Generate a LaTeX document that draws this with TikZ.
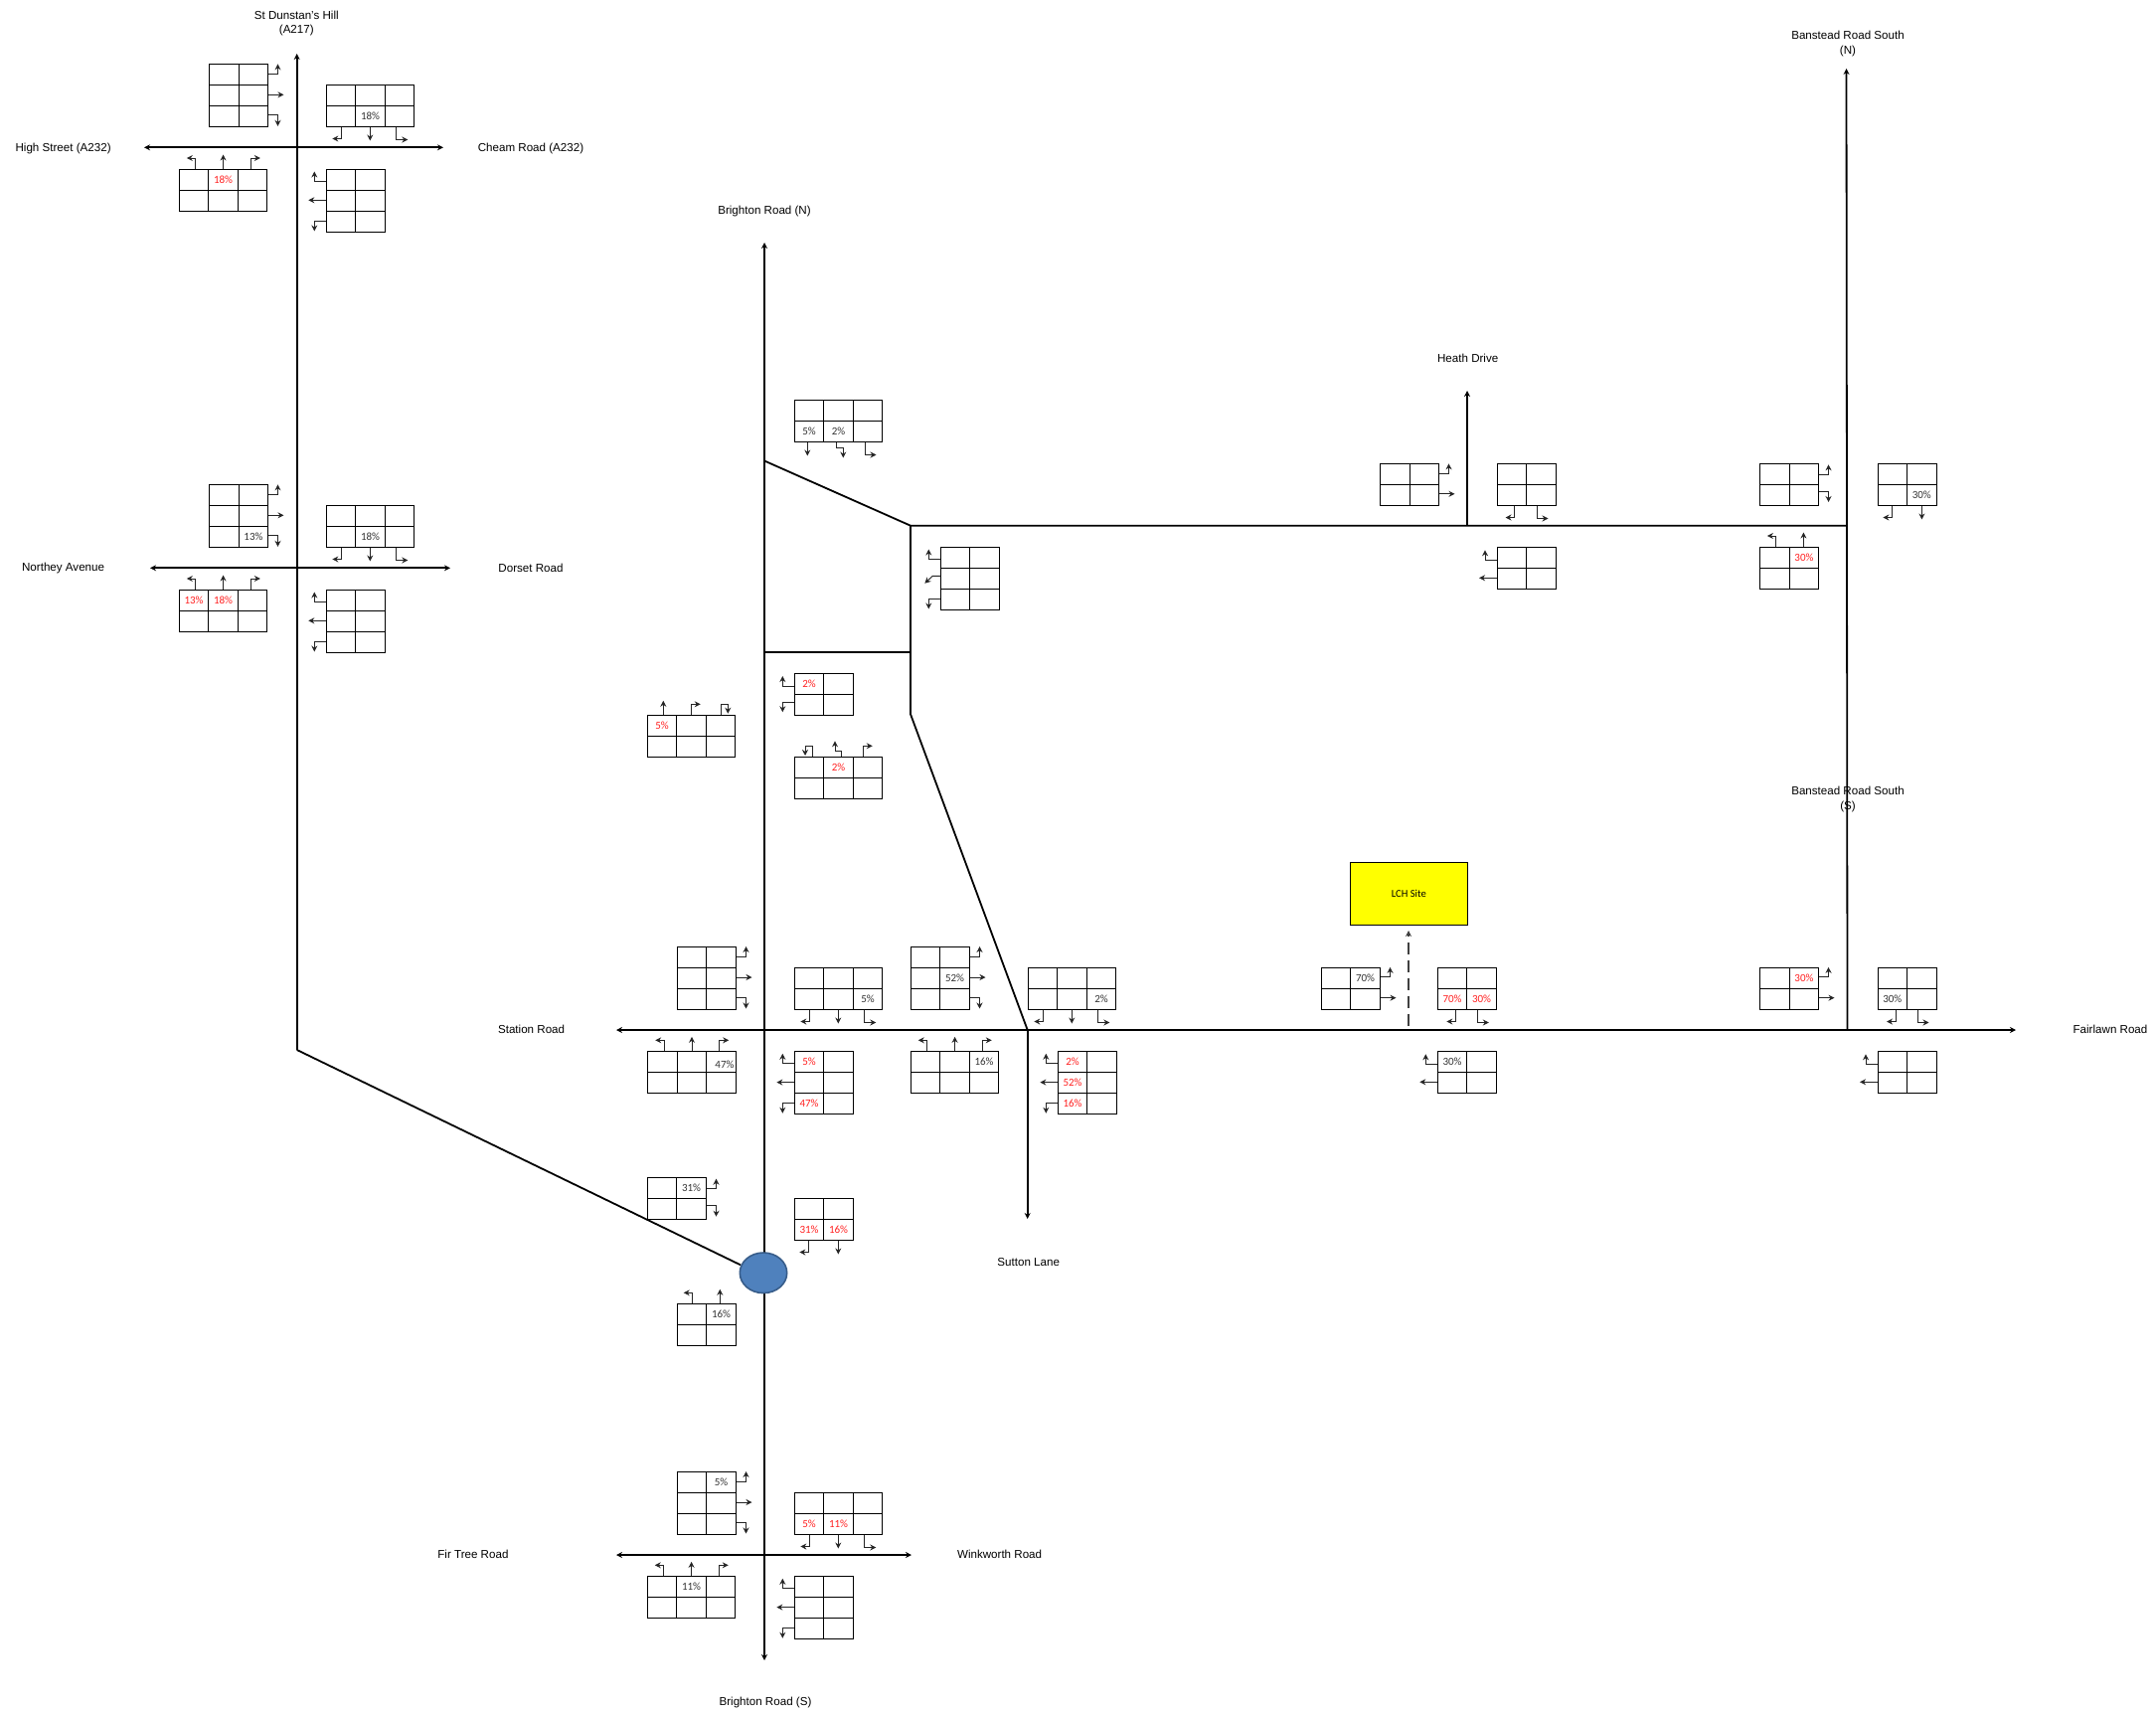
\documentclass[tikz,border=0pt]{standalone}
\usepackage{fontspec}
\setmainfont{Liberation Sans}
\newfontfamily\pctfont{Carlito}
\usetikzlibrary{arrows.meta,calc}
\definecolor{pctred}{HTML}{FF2020}
\definecolor{rbfill}{RGB}{79,129,189}
\definecolor{rbline}{RGB}{56,93,138}
\definecolor{sitefill}{RGB}{255,255,0}
\tikzset{
  x=0.5pt,y=-0.5pt,
  road/.style={line width=0.9pt,black},
  roadone/.style={road,-{Stealth[length=3pt,width=3pt]}},
  roadtwo/.style={road,{Stealth[length=3pt,width=3pt]}-{Stealth[length=3pt,width=3pt]}},
  cellline/.style={line width=0.5pt,black},
  turn/.style={line width=0.45pt,black!85,-{Stealth[length=3pt,width=3pt]}},
  roadlabel/.style={font=\fontsize{5.8}{7.2}\selectfont,align=center,inner sep=0pt},
  pctb/.style={font=\pctfont\fontsize{5.5}{6}\selectfont,inner sep=0pt,text=black!80},
  pctr/.style={font=\pctfont\fontsize{5.5}{6}\selectfont,inner sep=0pt,text=pctred},
}
\newcommand{\cw}{29.5}
\newcommand{\ch}{21.1}
% \tblk{x}{y}{cols}{rows}
\newcounter{blk}
\newcommand{\tblk}[4]{%
  \stepcounter{blk}%
  \def\gx{#1}\def\gy{#2}%
  \pgfmathsetmacro\gxl{floor(#1)+0.5}\pgfmathsetmacro\gyt{floor(#2)+0.5}%
  \pgfmathsetmacro\gxr{floor(#1+#3*\cw)+0.5}\pgfmathsetmacro\gyb{floor(#2+#4*\ch)+0.5}%
  \draw[cellline] (\gxl,\gyt) rectangle (\gxr,\gyb);
  \foreach \i in {1,...,#3}{\pgfmathsetmacro\xx{floor(#1+\i*\cw)+0.5}\draw[cellline] (\xx,\gyt) -- (\xx,\gyb);}
  \foreach \j in {1,...,#4}{\pgfmathsetmacro\yy{floor(#2+\j*\ch)+0.5}\draw[cellline] (\gxl,\yy) -- (\gxr,\yy);}
}
% percent label in current block: \pb{col}{row}{text}, \pr
\newcommand{\pb}[3]{\node[pctb] (pb\theblk c#1r#2) at ({\gx+(#1-0.5)*\cw},{\gy+(#2-0.5)*\ch}) {#3};}
\newcommand{\pr}[3]{\node[pctr] (pr\theblk c#1r#2) at ({\gx+(#1-0.5)*\cw},{\gy+(#2-0.5)*\ch}) {#3};}
% arrows: right edge
\newcommand{\aru}[1][10]{\draw[turn] (\gxr,{\gy+#1}) -- ({\gxr+10},{\gy+#1}) -- ({\gxr+10},{\gy+#1-10});}
\newcommand{\arr}[1][31]{\draw[turn] (\gxr,{\gy+#1}) -- ({\gxr+16},{\gy+#1});}
\newcommand{\ard}[1][51.5]{\draw[turn] (\gxr,{\gy+#1}) -- ({\gxr+10},{\gy+#1}) -- ({\gxr+10},{\gy+#1+11});}
% left edge
\newcommand{\alu}[1][12.5]{\draw[turn] (\gx,{\gy+#1}) -- ({\gx-12},{\gy+#1}) -- ({\gx-12},{\gy+#1-10});}
\newcommand{\all}[1][31.3]{\draw[turn] (\gx,{\gy+#1}) -- ({\gx-18},{\gy+#1});}
\newcommand{\ald}[1][52.5]{\draw[turn] (\gx,{\gy+#1}) -- ({\gx-12},{\gy+#1}) -- ({\gx-12},{\gy+#1+10});}
% bottom edge: x offsets
\newcommand{\abl}[1][15]{\draw[turn] ({\gx+#1},\gyb) -- ({\gx+#1},{\gyb+12}) -- ({\gx+#1-9},{\gyb+12});}
\newcommand{\abd}[1][44]{\draw[turn] ({\gx+#1},\gyb) -- ({\gx+#1},{\gyb+14});}
\newcommand{\abr}[1][70.5]{\draw[turn] ({\gx+#1},\gyb) -- ({\gx+#1},{\gyb+13}) -- ({\gx+#1+11.5},{\gyb+13});}
% top edge
\newcommand{\atl}[1][16.5]{\draw[turn] ({\gx+#1},\gy) -- ({\gx+#1},{\gy-11}) -- ({\gx+#1-9},{\gy-11});}
\newcommand{\atu}[1][44.3]{\draw[turn] ({\gx+#1},\gy) -- ({\gx+#1},{\gy-14.5});}
\newcommand{\atr}[1][72]{\draw[turn] ({\gx+#1},\gy) -- ({\gx+#1},{\gy-11}) -- ({\gx+#1+9.5},{\gy-11});}
\begin{document}
\begin{tikzpicture}
\useasboundingbox (0,0) rectangle (2169,1724);
% road points
\coordinate (a1top) at (298.7,54);
\coordinate (a1kink) at (298.7,1056);
\coordinate (h1w) at (145,148.3);
\coordinate (h1e) at (446,148.3);
\coordinate (h2w) at (151,571.3);
\coordinate (h2e) at (453,571.3);
\coordinate (bntop) at (769,244);
\coordinate (bsbot) at (769,1670);
\coordinate (d1) at (769,463.5);
\coordinate (d2) at (916,528.7);
\coordinate (d3) at (769,655.7);
\coordinate (d4) at (916,655.7);
\coordinate (d5) at (916,718.3);
\coordinate (suttonj) at (1033.7,1036);
\coordinate (suttonb) at (1033.7,1226);
\coordinate (stw) at (620,1036);
\coordinate (ste) at (2028,1036);
\coordinate (banj) at (1858,528.7);
\coordinate (bantop) at (1857.5,69);
\coordinate (banb) at (1858.5,1036);
\coordinate (heathj) at (1476,528.7);
\coordinate (heathtop) at (1476,393);
\coordinate (ftw) at (620,1564);
\coordinate (fte) at (917,1564);
\coordinate (lchin) at (1417,1032);
\coordinate (lchout) at (1417,936);
\coordinate (rbw) at (745,1272.3);
\coordinate (rb) at (768,1280.3);
% roads
\draw[roadone] (a1kink) -- (a1top);
\draw[roadtwo] (h1w) -- (h1e);
\draw[roadtwo] (h2w) -- (h2e);
\draw[roadtwo] (bntop) -- (bsbot);
\draw[road] (d1) -- (d2) -- (banj);
\draw[road] (d3) -- (d4);
\draw[road] (d2) -- (d5) -- (suttonj);
\draw[roadone] (suttonj) -- (suttonb);
\draw[roadtwo] (stw) -- (ste);
\draw[roadone] (banb) -- (bantop);
\draw[roadone] (heathj) -- (heathtop);
\draw[roadtwo] (ftw) -- (fte);
\draw[road] (a1kink) -- (rbw);
\draw[line width=0.8pt,draw=rbline,fill=rbfill] (rb) ellipse [x radius=23.7,y radius=20.3];
% LCH site
\node[draw=black,line width=0.5pt,fill=sitefill,minimum width=59pt,minimum height=31.7pt,inner sep=0pt,font=\pctfont\fontsize{5.3}{6}\selectfont] (lch) at (1417.3,899) {LCH Site};
\draw[line width=1pt,black!75,dash pattern=on 6pt off 3pt,-{Stealth[length=3pt,width=3pt]}] (lchin) -- (lchout);
% road labels
\node[roadlabel] (l1) at (298.3,23.5) {St Dunstan's Hill\\(A217)};
\node[roadlabel] (l2) at (63.6,149.3) {High Street (A232)};
\node[roadlabel] (l3) at (534,149.3) {Cheam Road (A232)};
\node[roadlabel] (l4) at (63.6,571.4) {Northey Avenue};
\node[roadlabel] (l5) at (534,571.4) {Dorset Road};
\node[roadlabel] (l6) at (769,212.5) {Brighton Road (N)};
\node[roadlabel] (l7) at (1476.7,360.2) {Heath Drive};
\node[roadlabel] (l8) at (1859,44) {Banstead Road South\\(N)};
\node[roadlabel] (l9) at (1859,804) {Banstead Road South\\(S)};
\node[roadlabel] (l10) at (534.6,1035.8) {Station Road};
\node[roadlabel] (l11) at (2123,1035.8) {Fairlawn Road};
\node[roadlabel] (l12) at (1034.7,1269) {Sutton Lane};
\node[roadlabel] (l13) at (475.9,1563.5) {Fir Tree Road};
\node[roadlabel] (l14) at (1005.6,1563.5) {Winkworth Road};
\node[roadlabel] (l15) at (770,1712.5) {Brighton Road (S)};
% --- crossing 1
\tblk{210.7}{64.3}{2}{3} \aru \arr \ard
\tblk{328.3}{85.3}{3}{2} \abl \abd \abr \pb{2}{2}{18\%}
\tblk{180.3}{170}{3}{2} \atl \atu \atr \pr{2}{1}{18\%}
\tblk{328.3}{170}{2}{3} \alu \all \ald
% --- crossing 2
\tblk{210.7}{487.3}{2}{3} \aru \arr \ard \pb{2}{3}{13\%}
\tblk{328.3}{508.3}{3}{2} \abl \abd \abr \pb{2}{2}{18\%}
\tblk{180.3}{593}{3}{2} \atl \atu \atr \pr{1}{1}{13\%} \pr{2}{1}{18\%}
\tblk{328.3}{593}{2}{3} \alu \all \ald
% --- upper Brighton Road
\tblk{799.3}{402.3}{3}{2} \pb{1}{2}{5\%} \pb{2}{2}{2\%}
\abd[13]
\draw[turn] ({\gx+42},\gyb) -- ({\gx+42},{\gyb+6}) -- ({\gx+49},{\gyb+6}) -- ({\gx+49},{\gyb+16});
\abr[70.7]
% --- junction box
\tblk{946.3}{550}{2}{3} \alu
\draw[turn] (\gx,{\gy+29.3}) -- ({\gx-8},{\gy+29.3}) -- ({\gx-16},{\gy+36.7});
\ald
% --- Heath Drive
\tblk{1388.5}{466.3}{2}{2} \aru[10] \arr[30.5]
\tblk{1506}{466.3}{2}{2} \abl[17.5] \abr[40]
\tblk{1506}{550}{2}{2} \alu[13.3] \all[31.3]
% --- Banstead north
\tblk{1770.7}{466.3}{2}{2} \aru[11] \ard[27.7]
\tblk{1889}{466.3}{2}{2} \abl[14.4] \abd[44.4] \pb{2}{2}{30\%}
\tblk{1770.7}{550}{2}{2} \atl[16.2] \atu[43.7] \pr{2}{1}{30\%}
% --- middle Brighton Road
\tblk{799.3}{677.3}{2}{2} \pr{1}{1}{2\%} \alu[12.7] \ald[29]
\tblk{651.3}{719.3}{3}{2} \pr{1}{1}{5\%}
\atu[16]
\atr[44]
\draw[turn] ({\gx+73.7},\gy) -- ({\gx+73.7},{\gy-11}) -- ({\gx+81},{\gy-11}) -- ({\gx+81},{\gy-1.6});
\tblk{799.3}{761.3}{3}{2} \pr{2}{1}{2\%}
\draw[turn] ({\gx+18.4},\gy) -- ({\gx+18.4},{\gy-11.3}) -- ({\gx+10.7},{\gy-11.3}) -- ({\gx+10.7},{\gy-1.3});
\draw[turn] ({\gx+47.4},\gy) -- ({\gx+47.4},{\gy-6}) -- ({\gx+40.7},{\gy-6}) -- ({\gx+40.7},{\gy-16});
\atr[69]
% --- Station Road / Brighton Road
\tblk{681}{952}{2}{3} \aru \arr \ard
\tblk{799.3}{973.3}{3}{2} \abl \abd \abr \pb{3}{2}{5\%}
\tblk{651.7}{1057.3}{3}{2} \atl \atu \atr
\node[pctb] (pb47) at ({\gx+2.5*\cw+3.5},{\gy+0.5*\ch+3}) {47\%};
\tblk{799.3}{1057.3}{2}{3} \alu \all \ald \pr{1}{1}{5\%} \pr{1}{3}{47\%}
% --- Station Road / Sutton Lane
\tblk{916.3}{952}{2}{3} \aru \arr \ard \pb{2}{2}{52\%}
\tblk{1034.3}{973.3}{3}{2} \abl \abd \abr \pb{3}{2}{2\%}
\tblk{916.3}{1057.3}{3}{2} \atl \atu \atr \pb{3}{1}{16\%}
\tblk{1064.3}{1057.3}{2}{3} \alu \all \ald \pr{1}{1}{2\%} \pr{1}{2}{52\%} \pr{1}{3}{16\%}
% --- LCH access
\tblk{1329.3}{973.3}{2}{2} \aru[9.5] \arr[30.4] \pb{2}{1}{70\%}
\tblk{1446.3}{973.3}{2}{2} \abl[18] \abr[40] \pr{1}{2}{70\%} \pr{2}{2}{30\%}
\tblk{1446.3}{1057.3}{2}{2} \alu[13] \all[31] \pb{1}{1}{30\%}
% --- Banstead south
\tblk{1770.7}{973.3}{2}{2} \aru[9.5] \arr[30.4] \pr{2}{1}{30\%}
\tblk{1889}{973.3}{2}{2} \abl[18] \abr[40] \pb{1}{2}{30\%}
\tblk{1889}{1057.3}{2}{2} \alu[13] \all[31]
% --- around the roundabout
\tblk{651.3}{1184.3}{2}{2} \aru[11.4] \ard[28.4] \pb{2}{1}{31\%}
\tblk{799.3}{1205}{2}{2} \abl[14] \abd[44] \pr{1}{2}{31\%} \pr{2}{2}{16\%}
\tblk{681.3}{1311.3}{2}{2} \atl[15.4] \atu[43] \pb{2}{1}{16\%}
% --- Fir Tree / Winkworth
\tblk{681.3}{1480}{2}{3} \aru \arr \ard \pb{2}{1}{5\%}
\tblk{799.3}{1501.3}{3}{2} \abl \abd \abr \pr{1}{2}{5\%} \pr{2}{2}{11\%}
\tblk{651.3}{1585.3}{3}{2} \atl \atu \atr \pb{2}{1}{11\%}
\tblk{799.3}{1585.3}{2}{3} \alu \all \ald
\end{tikzpicture}
\end{document}
